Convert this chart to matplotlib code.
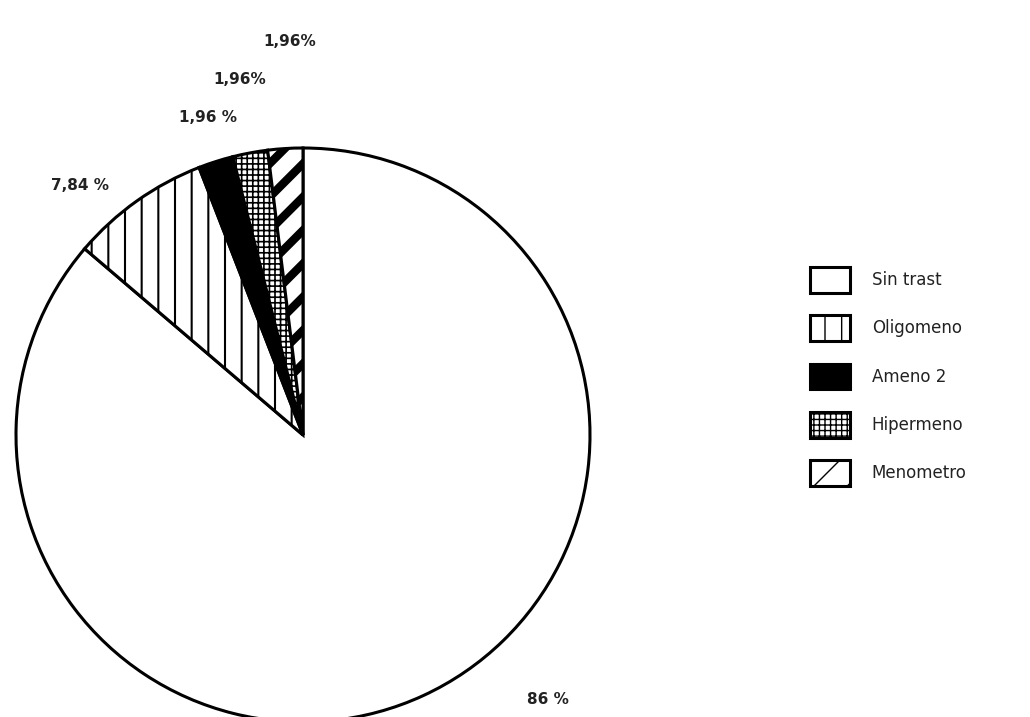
import matplotlib.pyplot as plt

labels = ['Sin trast', 'Oligomeno', 'Ameno 2', 'Hipermeno', 'Menometro']
values = [86, 7.84, 1.96, 1.96, 1.96]
pct_text = ['86 %', '7,84 %', '1,96 %', '1,96%', '1,96%']

fig = plt.figure(figsize=(10.3, 7.17), dpi=100)
ax = fig.add_axes([0, 0, 1, 1])

wedges, _ = ax.pie(values, center=(303, 282), radius=287, startangle=90,
                   counterclock=False, colors=['white'] * 5,
                   wedgeprops=dict(edgecolor='black', linewidth=2.2),
                   frame=True)
ax.set_xlim(0, 1030)
ax.set_ylim(0, 717)
ax.set_aspect('equal')
ax.axis('off')

hatches = [None, '|', None, '+++', '/']
for w, h in zip(wedges, hatches):
    if h:
        w.set_hatch(h)
wedges[2].set_facecolor('black')
try:
    wedges[1].set_hatch_linewidth(1.5)
    wedges[3].set_hatch_linewidth(1.2)
    wedges[4].set_hatch_linewidth(6)
except AttributeError:
    plt.rcParams['hatch.linewidth'] = 1.5

# percent labels, placed like the original drawing
label_pos = [(548, 18), (80, 532), (208, 599), (240, 637), (290, 675)]
for (x, y), t in zip(label_pos, pct_text):
    ax.text(x, y, t, ha='center', va='center', fontsize=11,
            fontweight='bold', color='#222222')

leg = fig.legend(wedges, labels, loc='center left', bbox_to_anchor=(0.772, 0.475),
                 frameon=False, fontsize=12, labelspacing=1.35, handlelength=2.4,
                 handleheight=2.0, handletextpad=1.3)
for t in leg.get_texts():
    t.set_color('#222222')

fig.savefig('out.png', dpi=100)
